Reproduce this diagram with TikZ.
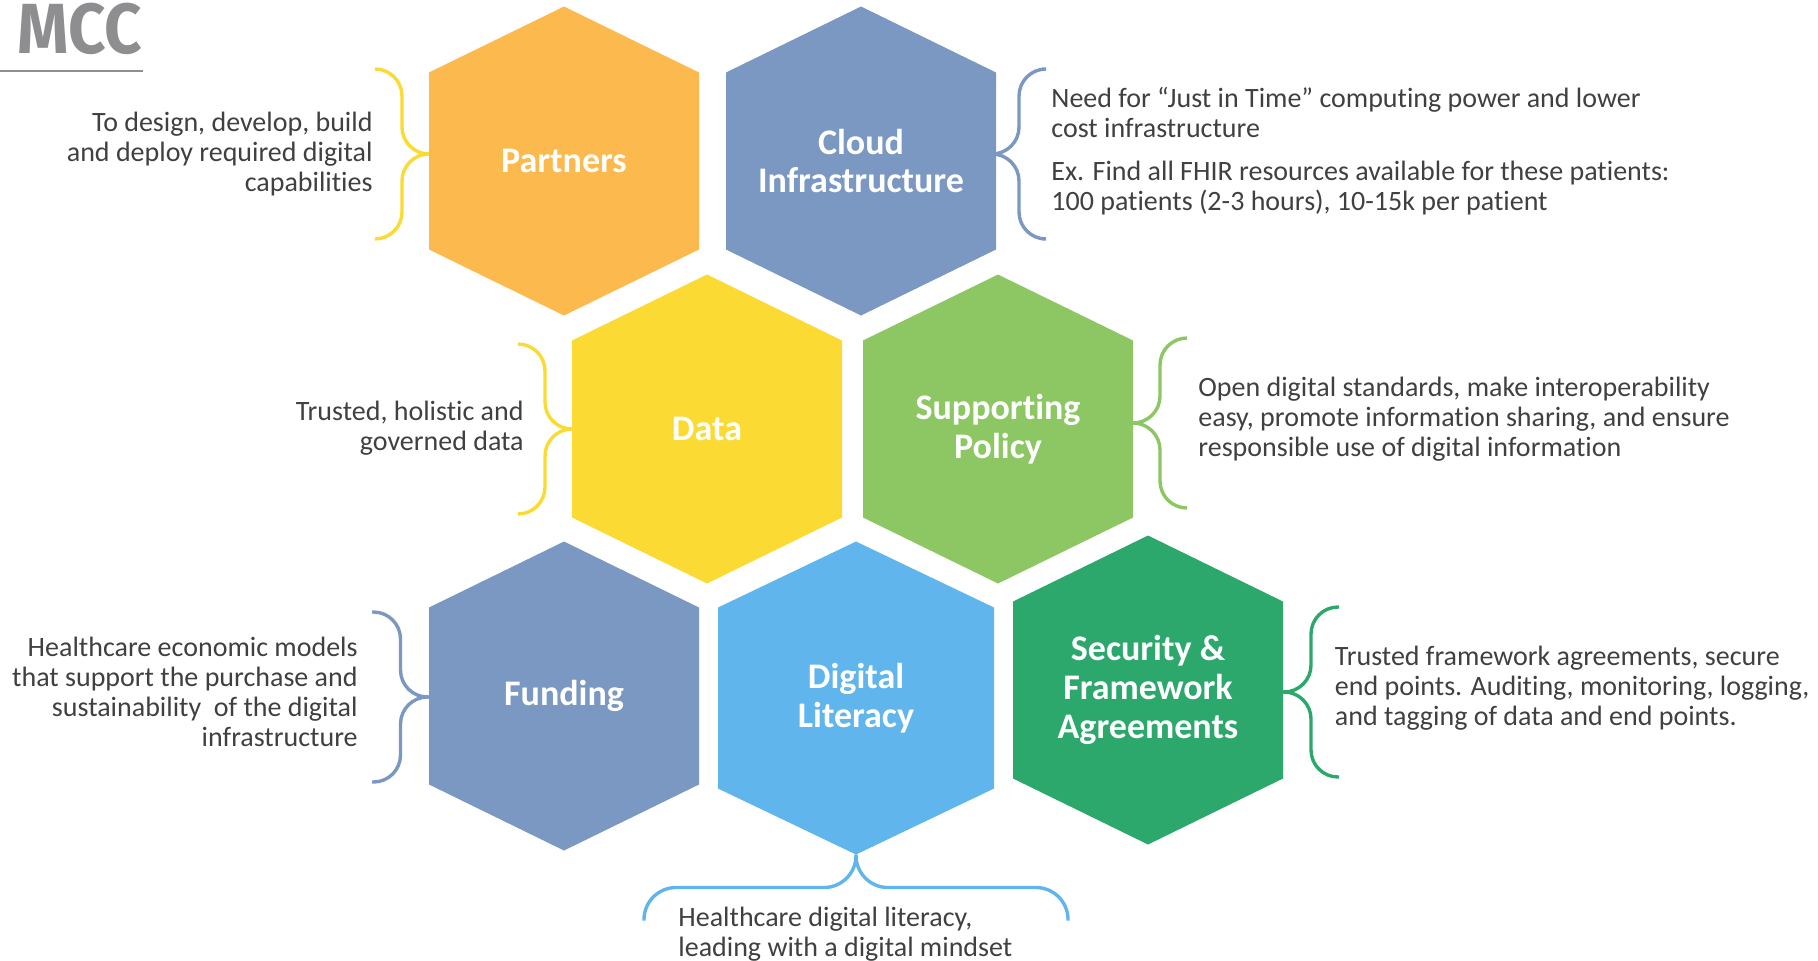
\documentclass[tikz,border=0pt]{standalone}
\usepackage{fontspec}
\setmainfont[Ligatures=NoCommon]{Carlito}
\newfontfamily\logofont[FakeStretch=.92]{Fira Sans}
\usetikzlibrary{positioning,calc}

\definecolor{hexorange}{HTML}{FCB94E}
\definecolor{hexblue}{HTML}{7A98C1}
\definecolor{hexyellow}{HTML}{FBDB33}
\definecolor{hexgreen}{HTML}{8CC763}
\definecolor{hexsky}{HTML}{60B6EC}
\definecolor{hexdark}{HTML}{2CA86C}
\definecolor{bodygray}{HTML}{404040}
\definecolor{logogray}{HTML}{8E8E90}

\tikzset{
  hexcell/.style={minimum width=135pt,minimum height=154.5pt,inner sep=0pt,outer sep=0pt,
    text=white,align=center,font=\fontsize{18}{19.4}\selectfont\bfseries,
    path picture={\fill[#1] (path picture bounding box.north)
      -- ([yshift=-33pt]path picture bounding box.north east)
      -- ([yshift=33pt]path picture bounding box.south east)
      -- (path picture bounding box.south)
      -- ([yshift=33pt]path picture bounding box.south west)
      -- ([yshift=-33pt]path picture bounding box.north west) -- cycle;}},
  note/.style={text=bodygray,inner sep=0pt,font=\fontsize{14}{15}\selectfont},
  bracelink/.style={draw=#1,line width=1.7pt,rounded corners=13.5pt,
    to path={let \p1=(\tikztostart),\p2=(\tikztotarget) in
      -- ({.5*\x1+.5*\x2},\y1) -- ({.5*\x1+.5*\x2},\y2) -- (\tikztotarget)}},
  bracedown/.style={draw=#1,line width=1.7pt,rounded corners=16pt,
    to path={let \p1=(\tikztostart),\p2=(\tikztotarget) in
      -- (\x1,{.5*\y1+.5*\y2}) -- (\x2,{.5*\y1+.5*\y2}) -- (\tikztotarget)}},
}

\begin{document}
\begin{tikzpicture}[x=.5pt,y=-.5pt]
      \useasboundingbox (0,0) rectangle (1818,960);

      % logo
      \node (logo) [inner sep=0pt,text=logogray,
        font=\fontsize{35.5}{36}\logofont\bfseries] at (80,28.5) {MCC};
      \coordinate (ruleleft) at (0,71);
      \coordinate (ruleright) at (143,71);
      \draw[logogray,line width=.6pt] (ruleleft) -- (ruleright);

      % hexagons
      \node (partners) [hexcell=hexorange] at (564,161) {Partners};
      \node (cloud) [hexcell=hexblue] at (861,161) {Cloud\\Infrastructure};
      \node (data) [hexcell=hexyellow] at (707,429) {Data};
      \node (policy) [hexcell=hexgreen] at (998,429) {Supporting\\Policy};
      \node (funding) [hexcell=hexblue] at (564,696) {Funding};
      \node (literacy) [hexcell=hexsky,minimum width=138pt,minimum height=156.5pt] at (856,698) {Digital\\Literacy};
      \node (security) [hexcell=hexdark] at (1148,690) {Security \&\\Framework\\Agreements};

      % tips and ends of the braces
      \coordinate (partnerstip) at ([yshift=3.5pt]partners.west);
      \coordinate (partnersup) at ([shift={(-54,-85)}]partnerstip);
      \coordinate (partnerslow) at ([shift={(-54,85)}]partnerstip);
      \coordinate (cloudtip) at ([yshift=3.5pt]cloud.east);
      \coordinate (cloudup) at ([shift={(46,-85)}]cloudtip);
      \coordinate (cloudlow) at ([shift={(46,85)}]cloudtip);
      \coordinate (dataup) at ([shift={(-54,-85)}]data.west);
      \coordinate (datalow) at ([shift={(-54,85)}]data.west);
      \coordinate (policytip) at ([yshift=3pt]policy.east);
      \coordinate (policyup) at ([shift={(54,-85)}]policytip);
      \coordinate (policylow) at ([shift={(54,85)}]policytip);
      \coordinate (fundingtip) at ([yshift=-.5pt]funding.west);
      \coordinate (fundingup) at ([shift={(-57,-85)}]fundingtip);
      \coordinate (fundinglow) at ([shift={(-57,85)}]fundingtip);
      \coordinate (securitytip) at ([yshift=-1pt]security.east);
      \coordinate (securityup) at ([shift={(56,-85)}]securitytip);
      \coordinate (securitylow) at ([shift={(56,85)}]securitytip);
      \coordinate (literacyleft) at ([shift={(-212,66)}]literacy.south);
      \coordinate (literacyright) at ([shift={(212,66)}]literacy.south);

      \path
        (partnerstip) edge[bracelink=hexyellow] (partnersup)
        (partnerstip) edge[bracelink=hexyellow] (partnerslow)
        (cloudtip) edge[bracelink=hexblue] (cloudup)
        (cloudtip) edge[bracelink=hexblue] (cloudlow)
        (data.west) edge[bracelink=hexyellow] (dataup)
        (data.west) edge[bracelink=hexyellow] (datalow)
        (policytip) edge[bracelink=hexgreen] (policyup)
        (policytip) edge[bracelink=hexgreen] (policylow)
        (fundingtip) edge[bracelink=hexblue] (fundingup)
        (fundingtip) edge[bracelink=hexblue] (fundinglow)
        (securitytip) edge[bracelink=hexdark] (securityup)
        (securitytip) edge[bracelink=hexdark] (securitylow)
        (literacy.south) edge[bracedown=hexsky] (literacyleft)
        (literacy.south) edge[bracedown=hexsky] (literacyright);

      % texts
      \node (partnersnote) [note,align=right,anchor=east] at (373,154)
        {To design, develop, build\\and deploy required digital\\capabilities};
      \node (cloudnote) [note,align=left,anchor=west] at (1051,151)
        {Need for “Just in Time” computing power and lower\\cost infrastructure\\[6.5pt]
         Ex. Find all FHIR resources available for these patients:\\100 patients (2-3 hours), 10-15k per patient};
      \node (datanote) [note,align=right,anchor=east] at (524,428)
        {Trusted, holistic and\\governed data};
      \node (policynote) [note,align=left,anchor=west] at (1198,419)
        {Open digital standards, make interoperability\\easy, promote information sharing, and ensure\\responsible use of digital information};
      \node (fundingnote) [note,align=right,anchor=east] at (358,692)
        {Healthcare economic models\\that support the purchase and\\sustainability\ \ of the digital\\infrastructure};
      \node (securitynote) [note,align=left,anchor=west] at (1334.5,688)
        {Trusted framework agreements, secure\\end points. Auditing, monitoring, logging,\\and tagging of data and end points.};
      \node (literacynote) [note,align=left,anchor=west] at (678,934)
        {Healthcare digital literacy,\\leading with a digital mindset};
\end{tikzpicture}
\end{document}
